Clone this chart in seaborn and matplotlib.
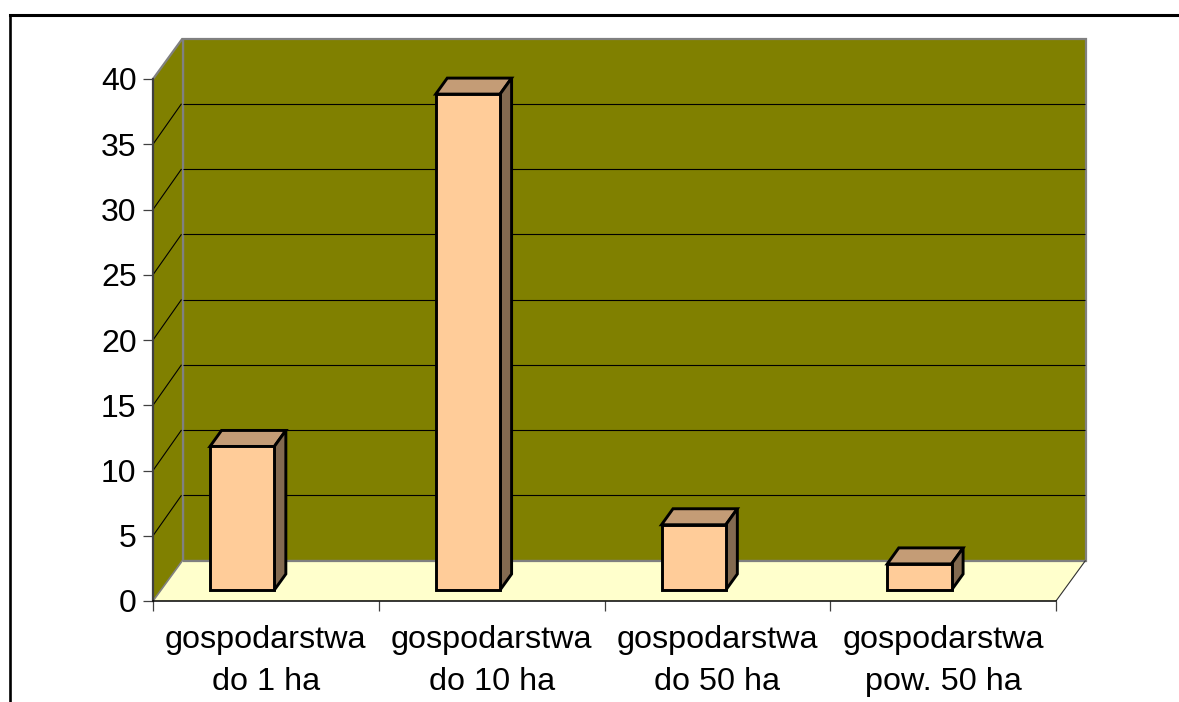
import matplotlib
matplotlib.use("Agg")
import matplotlib.pyplot as plt
import pandas as pd
import seaborn as sns
from matplotlib.lines import Line2D
from matplotlib.patches import Polygon
from matplotlib.transforms import Affine2D, IdentityTransform

categories = ["gospodarstwa\ndo 1 ha", "gospodarstwa\ndo 10 ha",
              "gospodarstwa\ndo 50 ha", "gospodarstwa\npow. 50 ha"]
values = [11, 38, 5, 2]
y_ticks = [0, 5, 10, 15, 20, 25, 30, 35, 40]

WALL = "#808000"
FLOOR = "#FFFFCC"
FRONT = "#FFCC99"
TOP = "#C49C76"
SIDE = "#836A50"
GRAY = "#808080"

W, H = 1179, 702
sns.set_theme(style="white")
plt.rcParams["font.family"] = ["Liberation Sans", "DejaVu Sans"]

fig = plt.figure(figsize=(W / 100, H / 100), dpi=100, facecolor="white")
ax = fig.add_axes([153 / W, (H - 601) / H, (1056 - 153) / W, (601 - 79) / H])
ax.patch.set_alpha(0)

df = pd.DataFrame({"cat": categories, "val": values})
sns.barplot(data=df, x="cat", y="val", ax=ax, color=FRONT, saturation=1,
            width=0.285, edgecolor="black", linewidth=2.1, zorder=5, err_kws={"linewidth": 0})
ax.set_xlim(-0.5, 3.5)
ax.set_ylim(0, 40)
ax.set_xlabel("")
ax.set_ylabel("")

DEPTH = (29.5, 40.5)
BAR_SHIFT = (-23.7, 11)
BAR_DEPTH = (11.5, 16)


def px(x, y, dx=0, dy=0):
    p = ax.transData.transform((x, y))
    return (p[0] + dx, p[1] + dy)


def poly(points, fc, z, ec="none", lw=0.0):
    ax.add_patch(Polygon(points, closed=True, facecolor=fc, edgecolor=ec, linewidth=lw,
                         transform=IdentityTransform(), zorder=z, clip_on=False,
                         joinstyle="miter"))


def seg(a, b, color, lw, z):
    ax.add_line(Line2D([a[0], b[0]], [a[1], b[1]], color=color, linewidth=lw,
                       transform=IdentityTransform(), zorder=z, clip_on=False,
                       solid_capstyle="butt"))


x0, x1 = ax.get_xlim()
y0, y1 = ax.get_ylim()
dx, dy = DEPTH

# back wall, left wall, floor
poly([px(x0, y0, dx, dy), px(x1, y0, dx, dy), px(x1, y1, dx, dy), px(x0, y1, dx, dy)],
     WALL, 1, ec=GRAY, lw=1.6)
poly([px(x0, y0), px(x0, y0, dx, dy), px(x0, y1, dx, dy), px(x0, y1)], WALL, 1.1)
poly([px(x0, y0), px(x1, y0), px(x1, y0, dx, dy), px(x0, y0, dx, dy)], FLOOR, 1.2)

# wall edges
seg(px(x0, y1), px(x0, y1, dx, dy), GRAY, 1.6, 2)
seg(px(x0, y0, dx, dy), px(x0, y1, dx, dy), GRAY, 1.6, 2)
seg(px(x0, y0, dx, dy), px(x1, y0, dx, dy), GRAY, 1.6, 2)
seg(px(x0, y0), px(x0, y0, dx, dy), GRAY, 1.2, 2)
seg(px(x1, y0), px(x1, y0, dx, dy), "#303030", 0.8, 2)

# gridlines on both walls
for t in y_ticks[1:-1]:
    seg(px(x0, t, dx, dy), px(x1, t, dx - 1, dy), "black", 0.8, 3)
    seg(px(x0, t), px(x0, t, dx - 1, dy), "black", 0.8, 3)

# bars: shift the front faces, then add top and side from the same rectangles
sx, sy = BAR_SHIFT
bx, by = BAR_DEPTH
shift = Affine2D().translate(sx, sy)
for bar in ax.patches:
    if not isinstance(bar, matplotlib.patches.Rectangle):
        continue
    l, r = bar.get_x(), bar.get_x() + bar.get_width()
    v = bar.get_height()
    bar.set_transform(ax.transData + shift)
    bar.set_clip_on(False)
    bar.set_joinstyle("miter")
    poly([px(l, v, sx, sy), px(r, v, sx, sy), px(r, v, sx + bx, sy + by), px(l, v, sx + bx, sy + by)],
         TOP, 4, ec="black", lw=2.1)
    poly([px(r, 0, sx, sy), px(r, 0, sx + bx, sy + by), px(r, v, sx + bx, sy + by), px(r, v, sx, sy)],
         SIDE, 4, ec="black", lw=2.1)

# axes styling
for name in ("top", "right"):
    ax.spines[name].set_visible(False)
ax.spines["left"].set_color("#404040")
ax.spines["left"].set_linewidth(1.6)
ax.spines["bottom"].set_color("black")
ax.spines["bottom"].set_linewidth(1.1)
for s in ax.spines.values():
    s.set_zorder(3)

ax.set_yticks(y_ticks)
ax.tick_params(axis="y", which="major", left=True, length=7.2, width=0.9, color="#404040",
               pad=4.6, labelsize=23, labelcolor="black")
ax.set_xticks([0, 1, 2, 3])
ax.set_xticks([-0.5, 0.5, 1.5, 2.5, 3.5], minor=True)
ax.tick_params(axis="x", which="major", bottom=False, length=0, pad=17.5, labelsize=23.3, labelcolor="black")
ax.tick_params(axis="x", which="minor", bottom=True, length=7.2, width=0.9, color="#404040")
for lab in ax.get_xticklabels():
    lab.set_linespacing(1.52)

# outer frame: only top and left sides fall inside the picture
fig.add_artist(Line2D([10 / W, 10 / W], [0, (H - 15) / H], color="black", linewidth=1.9,
                      transform=fig.transFigure, solid_capstyle="projecting"))
fig.add_artist(Line2D([10 / W, 1], [(H - 15) / H, (H - 15) / H], color="black", linewidth=2.2,
                      transform=fig.transFigure, solid_capstyle="projecting"))

fig.savefig("out.png", dpi=100, facecolor="white")
